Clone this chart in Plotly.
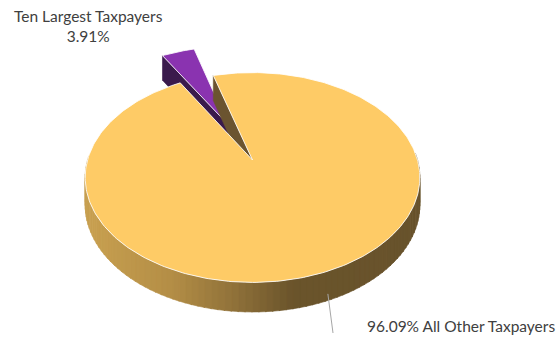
import numpy as np
import plotly.graph_objects as go

# ---- data ----
labels = ["All Other Taxpayers", "Ten Largest Taxpayers"]
values = [96.09, 3.91]
top_colors = ["#FECB66", "#8A33B0"]
side_colors = ["#6B5430", "#3A1A4C"]
pull = [0.0, 0.40]

# ---- geometry / style (layout, not data) ----
CX, CY = 252.5, 160.0     # projected centre of the top face
A, B = 165.0, 102.0       # horizontal / vertical radii
D = 6.0                   # perspective distance
T = 27.0                  # extrusion depth
START = 254.0             # first slice start angle (screen degrees, clockwise)
W, H = 557, 338


def proj(u, v, h=0.0):
    s = D / (D - v)
    return CX + A * u * s, CY + B * v * s + T * h * s ** 0.5


def side_col(x):
    stops = [(0.0, (200, 160, 80)), (0.25, (180, 142, 70)), (0.45, (142, 112, 57)),
             (0.62, (106, 84, 43)), (1.0, (104, 83, 44))]
    t = (x - (CX - A)) / (2 * A)
    t = min(max(t, 0), 1)
    for (t0, c0), (t1, c1) in zip(stops[:-1], stops[1:]):
        if t <= t1:
            f = (t - t0) / (t1 - t0) if t1 > t0 else 0
            c = [round(c0[k] + f * (c1[k] - c0[k])) for k in range(3)]
            return "rgb(%d,%d,%d)" % tuple(c)
    return "rgb(%d,%d,%d)" % stops[-1][1]


total = sum(values)
slices = []
cum = 0.0
for i, val in enumerate(values):
    a0 = START + 360.0 * cum / total
    a1 = a0 + 360.0 * val / total
    cum += val
    mid = np.radians((a0 + a1) / 2)
    ox, oy = pull[i] * np.cos(mid), pull[i] * np.sin(mid)
    slices.append(dict(i=i, a0=a0, a1=a1, ox=ox, oy=oy, midv=np.sin(mid)))

fig = go.Figure()


def poly(xs, ys, fill, line=None, lw=0.6):
    fig.add_trace(go.Scatter(x=list(xs), y=list(ys), mode="lines", fill="toself",
                             fillcolor=fill, line=dict(color=line or fill, width=lw),
                             hoverinfo="skip", showlegend=False))


# draw back-to-front
for sl in sorted(slices, key=lambda d: d["midv"]):
    i, a0, a1, ox, oy = sl["i"], sl["a0"], sl["a1"], sl["ox"], sl["oy"]
    # radial side faces
    for ang, nrm in ((a0, a0 - 90), (a1, a1 + 90)):
        if np.sin(np.radians(nrm)) > 0:
            r = np.radians(ang)
            pts = [(ox, oy, 0), (ox + np.cos(r), oy + np.sin(r), 0),
                   (ox + np.cos(r), oy + np.sin(r), 1), (ox, oy, 1)]
            xy = [proj(u, v, h) for u, v, h in pts]
            poly([p[0] for p in xy] + [xy[0][0]], [p[1] for p in xy] + [xy[0][1]],
                 side_colors[i])
    # outer curved side, in strips
    step = 2.0
    angs = np.arange(a0, a1, step)
    for k in angs:
        k2 = min(k + step + 0.3, a1)
        if np.sin(np.radians((k + k2) / 2)) < -0.05:
            continue
        r1, r2 = np.radians(k), np.radians(k2)
        p = [proj(ox + np.cos(r1), oy + np.sin(r1), 0), proj(ox + np.cos(r2), oy + np.sin(r2), 0),
             proj(ox + np.cos(r2), oy + np.sin(r2), 1), proj(ox + np.cos(r1), oy + np.sin(r1), 1)]
        xm = (p[0][0] + p[1][0]) / 2
        col = side_col(xm) if i == 0 else side_colors[i]
        poly([q[0] for q in p] + [p[0][0]], [q[1] for q in p] + [p[0][1]], col)
    # top face
    th = np.radians(np.linspace(a0, a1, max(int(a1 - a0) + 2, 8)))
    xy = [proj(ox, oy)] + [proj(ox + np.cos(t), oy + np.sin(t)) for t in th] + [proj(ox, oy)]
    poly([p[0] for p in xy], [p[1] for p in xy], top_colors[i],
         line="rgba(255,255,255,0.85)", lw=1)

# leader line for the main slice label
main = slices[0]
mid = np.radians((main["a0"] + main["a1"]) / 2)
lx, ly = proj(np.cos(mid) * 0.99, np.sin(mid) * 0.99, 1)
fig.add_trace(go.Scatter(x=[lx, 333], y=[ly - 5, 333], mode="lines",
                         line=dict(color="#A6A6A6", width=1), hoverinfo="skip", showlegend=False))

font = dict(family="Lato, Carlito, sans-serif", size=15.5, color="#404040")
fig.add_annotation(x=88.5, y=26, xref="x", yref="y", showarrow=False,
                   text=f"{labels[1]}<br>{values[1]:.2f}%", font=font,
                   xanchor="center", yanchor="middle", align="center")
fig.add_annotation(x=365, y=326, xref="x", yref="y", showarrow=False,
                   text=f"{values[0]:.2f}% {labels[0]}", font=font,
                   xanchor="left", yanchor="middle")

fig.update_layout(width=W, height=H, margin=dict(l=0, r=0, t=0, b=0),
                  paper_bgcolor="white", plot_bgcolor="white",
                  xaxis=dict(range=[0, W], visible=False, fixedrange=True),
                  yaxis=dict(range=[H, 0], visible=False, fixedrange=True),
                  showlegend=False)
fig.write_html("out.html")
